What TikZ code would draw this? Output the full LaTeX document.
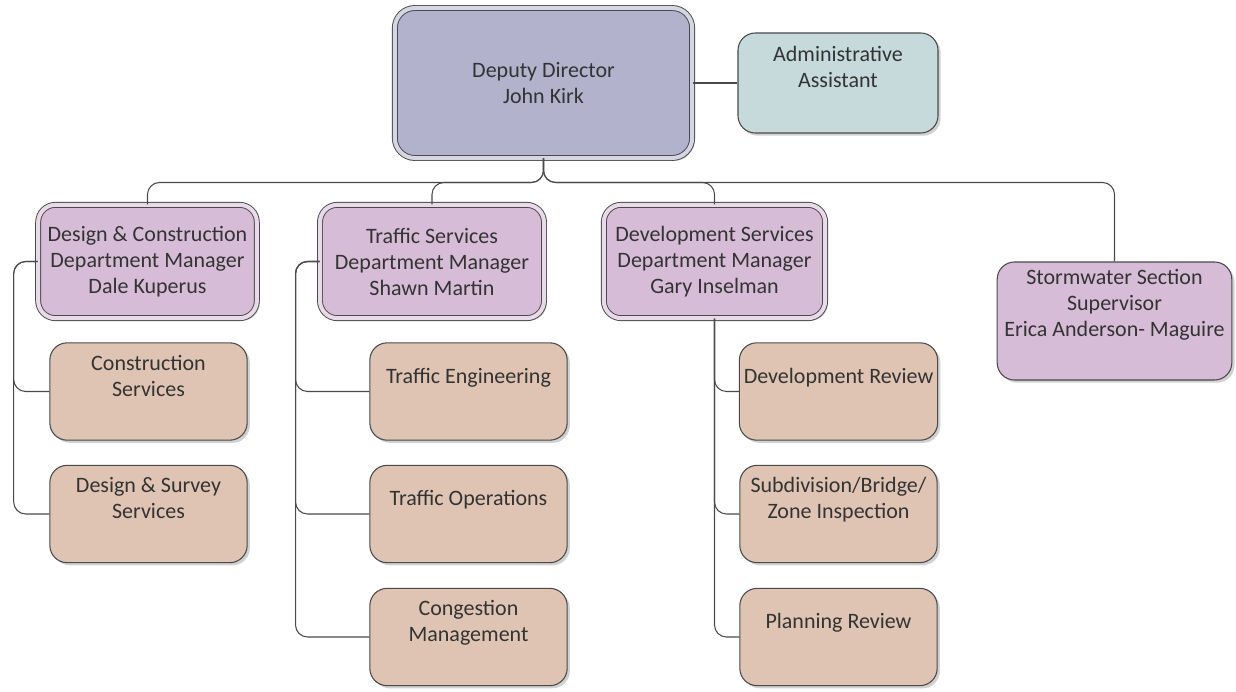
\documentclass[tikz,border=0pt]{standalone}
\usepackage{fontspec}
\setmainfont{Carlito}
\usetikzlibrary{shadows}

\definecolor{ddfill}{HTML}{B2B2CD}
\definecolor{aafill}{HTML}{C6DADB}
\definecolor{mgrfill}{HTML}{D7BCD7}
\definecolor{unitfill}{HTML}{DFC4B4}
\definecolor{edge}{HTML}{4A4A4A}
\definecolor{ink}{HTML}{333333}

\tikzset{
  box/.style={draw=edge, line width=0.8pt, rounded corners=13pt, text=ink,
    align=center, font=\fontsize{16.5}{19.5}\selectfont,
    drop shadow={shadow xshift=2pt, shadow yshift=-2pt, fill=black!30, opacity=.6}},
  twoline/.style={double=#1!55!white, double distance=3pt, line width=0.7pt},
  upper/.style={text depth=24pt},
  unitbox/.style={box, upper, fill=unitfill, minimum width=148pt, minimum height=73pt},
  mgrbox/.style={box, twoline=mgrfill, fill=mgrfill, minimum height=85pt},
  link/.style={draw=edge, line width=0.8pt, rounded corners=9pt}
}

\begin{document}
\begin{tikzpicture}[x=0.75pt, y=-0.75pt]
      \useasboundingbox (0,0) rectangle (1236,692);

      %%%%%%%%%%%%%%%%%%%%%%%%%%%%%%%%%%%%%%%%%%%%%%%%%%%%%%%%%%%%%%%%%%%%%%%%%%%
      %%%%  Top
      \node[box, twoline=ddfill, fill=ddfill, minimum width=223pt, minimum height=112.5pt,
            rounded corners=15pt] (dd) at (543.5,83) {Deputy Director\\John Kirk};
      \node[box, upper, fill=aafill, minimum width=150pt, minimum height=75pt]
            (aa) at (838,83) {Administrative\\Assistant};

      %%%%%%%%%%%%%%%%%%%%%%%%%%%%%%%%%%%%%%%%%%%%%%%%%%%%%%%%%%%%%%%%%%%%%%%%%%%
      %%%%  Managers
      \node[mgrbox, minimum width=164pt] (dc) at (147.5,261.5)
            {Design \& Construction\\Department Manager\\Dale Kuperus};
      \node[mgrbox, minimum width=168pt] (ts) at (432,261.5)
            {Traffic Services\\Department Manager\\Shawn Martin};
      \node[mgrbox, minimum width=166pt] (dv) at (714.5,261.5)
            {Development Services\\Department Manager\\Gary Inselman};
      \node[box, fill=mgrfill, text depth=27pt, minimum width=176pt, minimum height=88.5pt]
            (sw) at (1114.5,321) {Stormwater Section\\Supervisor\\Erica Anderson- Maguire};

      %%%%%%%%%%%%%%%%%%%%%%%%%%%%%%%%%%%%%%%%%%%%%%%%%%%%%%%%%%%%%%%%%%%%%%%%%%%
      %%%%  Units
      \node[unitbox] (cs)  at (148.5,391.5) {Construction\\Services};
      \node[unitbox] (dss) at (148.5,514)   {Design \& Survey\\Services};

      \node[unitbox] (te) at (468.5,391.5) {Traffic Engineering};
      \node[unitbox] (to) at (468.5,514)   {Traffic Operations};
      \node[unitbox] (cm) at (468.5,637)   {Congestion\\Management};

      \node[unitbox] (dr) at (838.5,391.5) {Development Review};
      \node[unitbox] (sb) at (838.5,514)   {Subdivision/Bridge/\\Zone Inspection};
      \node[unitbox] (pr) at (838.5,637)   {Planning Review};

      %%%%%%%%%%%%%%%%%%%%%%%%%%%%%%%%%%%%%%%%%%%%%%%%%%%%%%%%%%%%%%%%%%%%%%%%%%%
      %%%%  Links
      \draw[link] (dd.east) -- (aa.west);
      \foreach \c in {dc,ts,dv,sw}
        {\draw[link] (dd.south) -- ++(0,24) -| (\c.north);};

      \foreach \c in {cs,dss}
        {\draw[link] (dc.west) -- ++(-24,0) |- (\c.west);};
      \foreach \c in {te,to,cm}
        {\draw[link] (ts.west) -- ++(-24,0) |- (\c.west);};
      \foreach \c in {dr,sb,pr}
        {\draw[link] (dv.south) |- (\c.west);};
    \end{tikzpicture}
\end{document}
